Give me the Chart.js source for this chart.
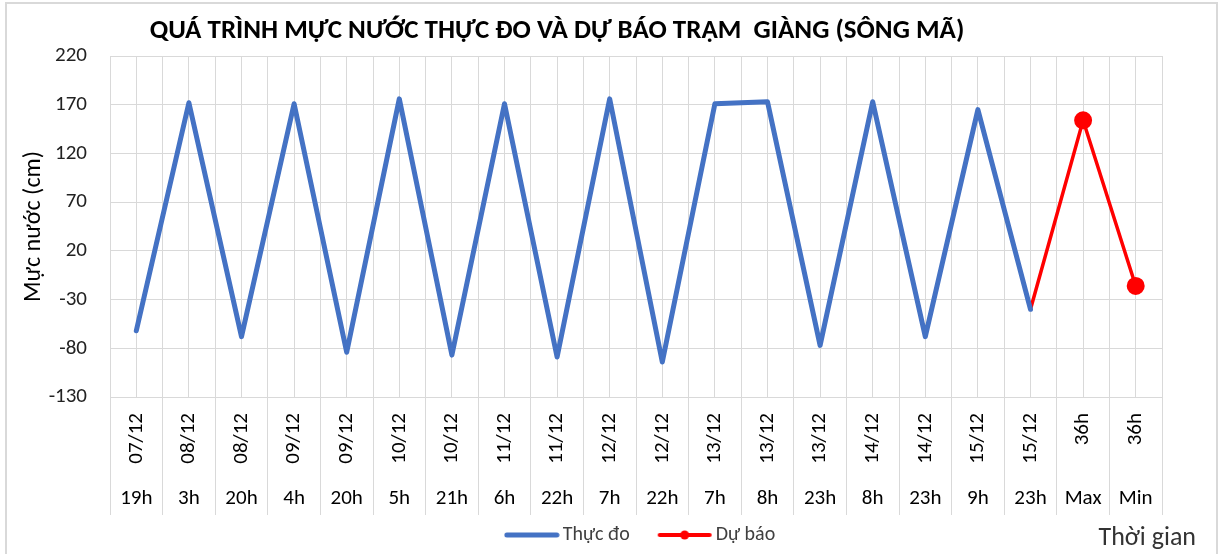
<!DOCTYPE html>
<html>
<head>
<meta charset="utf-8">
<script src="https://cdn.jsdelivr.net/npm/chart.js@4.4.0/dist/chart.umd.min.js"></script>
<style>
  body { margin: 0; background: #fff; }
  #wrap { position: relative; width: 1219px; height: 554px; overflow: hidden; }
  #frame { position: absolute; left: 5px; top: 2px; width: 1209px; height: 560px; border: 2px solid #d9d9d9; pointer-events: none; }
  #title { position: absolute; left: 0; top: 13px; width: 1114px; text-align: center;
    font: bold 27px Carlito, sans-serif; color: #000; line-height: 32px; }
  #xname { position: absolute; right: 23px; top: 521px; font: 26px Carlito, sans-serif; color: #333; line-height: 30px; }
  canvas { position: absolute; left: 0; top: 0; }
</style>
</head>
<body>
<div id="wrap">
  <canvas id="myChart" width="1219" height="554"></canvas>
  <div id="frame"></div>
  <div id="title">QUÁ TRÌNH MỰC NƯỚC THỰC ĐO VÀ DỰ BÁO TRẠM&nbsp; GIÀNG (SÔNG MÃ)</div>
  <div id="xname">Thời gian</div>
</div>
<script>
const dates = ["07/12", "08/12", "08/12", "09/12", "09/12", "10/12", "10/12", "11/12", "11/12", "12/12",
  "12/12", "13/12", "13/12", "13/12", "14/12", "14/12", "15/12", "15/12", "36h", "36h"];
const hours = ["19h", "3h", "20h", "4h", "20h", "5h", "21h", "6h", "22h", "7h",
  "22h", "7h", "8h", "23h", "8h", "23h", "9h", "23h", "Max", "Min"];
const thucDo = [-62, 172, -68, 171, -84, 176, -87, 171, -89, 176,
  -94, 171, 173, -77, 173, -68, 165, -40, null, null];
const duBao = [null, null, null, null, null, null, null, null, null, null,
  null, null, null, null, null, null, null, -40, 154, -16];
const yTicks = { min: -130, max: 220, step: 50 };

const blue = "#4472C4";
const red = "#FF0000";
const gridColor = "#d9d9d9";
const textColor = "#333";

Chart.defaults.font.family = "Carlito, sans-serif";
Chart.defaults.color = textColor;

// legend icons: line sample, red one with a dot
function makeIcon(color, width, dot) {
  const c = document.createElement("canvas");
  c.width = 56;
  c.height = 12;
  const g = c.getContext("2d");
  g.strokeStyle = color;
  g.lineWidth = width;
  g.lineCap = "round";
  g.beginPath();
  g.moveTo(3, 6);
  g.lineTo(53, 6);
  g.stroke();
  if (dot) {
    g.fillStyle = color;
    g.beginPath();
    g.arc(28, 6, 4.5, 0, Math.PI * 2);
    g.fill();
  }
  return c;
}
const icons = [makeIcon(blue, 5, false), makeIcon(red, 4, true)];

// legend sits a bit higher than its layout box (wide item padding)
const legendNudge = {
  id: "legendNudge",
  afterLayout(chart) {
    const lg = chart.legend;
    lg.top -= 24;
    lg.left += 7;
    lg.right += 7;
  },
};

const ctx = document.getElementById("myChart").getContext("2d");
const myChart = new Chart(ctx, {
  type: "line",
  data: {
    labels: dates,
    datasets: [
      {
        label: "Thực đo",
        data: thucDo,
        borderColor: blue,
        backgroundColor: blue,
        borderWidth: 5,
        borderJoinStyle: "round",
        borderCapStyle: "round",
        pointRadius: 0,
        tension: 0,
        fill: false,
      },
      {
        label: "Dự báo",
        data: duBao,
        borderColor: red,
        backgroundColor: red,
        borderWidth: 3.5,
        borderCapStyle: "round",
        pointRadius: duBao.map((v, i) => (i >= 18 ? 8 : 0)),
        pointBorderWidth: 2,
        pointBackgroundColor: red,
        pointBorderColor: red,
        tension: 0,
        fill: false,
      },
    ],
  },
  plugins: [legendNudge],
  options: {
    responsive: false,
    animation: false,
    layout: { padding: { top: 56, right: 57, bottom: 0, left: 0 } },
    plugins: {
      title: { display: false },
      tooltip: { enabled: false },
      legend: {
        position: "bottom",
        fullSize: false,
        maxHeight: 39,
        labels: {
          usePointStyle: true,
          pointStyleWidth: 42,
          padding: 34,
          color: "#404040",
          font: { size: 20 },
          generateLabels(chart) {
            const items = Chart.defaults.plugins.legend.labels.generateLabels(chart);
            items.forEach((item, i) => { item.pointStyle = icons[i]; });
            return items;
          },
        },
      },
    },
    scales: {
      x: {
        type: "category",
        labels: dates,
        offset: true,
        weight: 0,
        grid: { offset: true, color: gridColor, tickLength: 118, tickColor: gridColor },
        border: { display: true, color: gridColor },
        ticks: {
          autoSkip: false,
          minRotation: 90,
          maxRotation: 90,
          padding: -102,
          color: "#000",
          font: { size: 21 },
        },
        afterFit(scale) { scale.height = 73; },
      },
      x2: {
        type: "category",
        labels: hours,
        position: "bottom",
        offset: true,
        weight: 1,
        grid: { offset: false, color: gridColor, drawTicks: false },
        border: { display: false },
        ticks: { autoSkip: false, maxRotation: 0, padding: 16, color: "#000", font: { size: 21 } },
        afterFit(scale) { scale.height = 45; },
      },
      y: {
        min: yTicks.min,
        max: yTicks.max,
        grid: { color: gridColor, drawTicks: false },
        border: { display: true, color: gridColor },
        ticks: { stepSize: yTicks.step, padding: 23, color: "#222", font: { size: 21 } },
        title: {
          display: true,
          text: "Mực nước (cm)",
          color: "#000",
          font: { size: 24 },
          padding: { top: 20, bottom: 0 },
        },
        afterFit(scale) { scale.width = 110; },
      },
    },
  },
});
</script>
</body>
</html>
